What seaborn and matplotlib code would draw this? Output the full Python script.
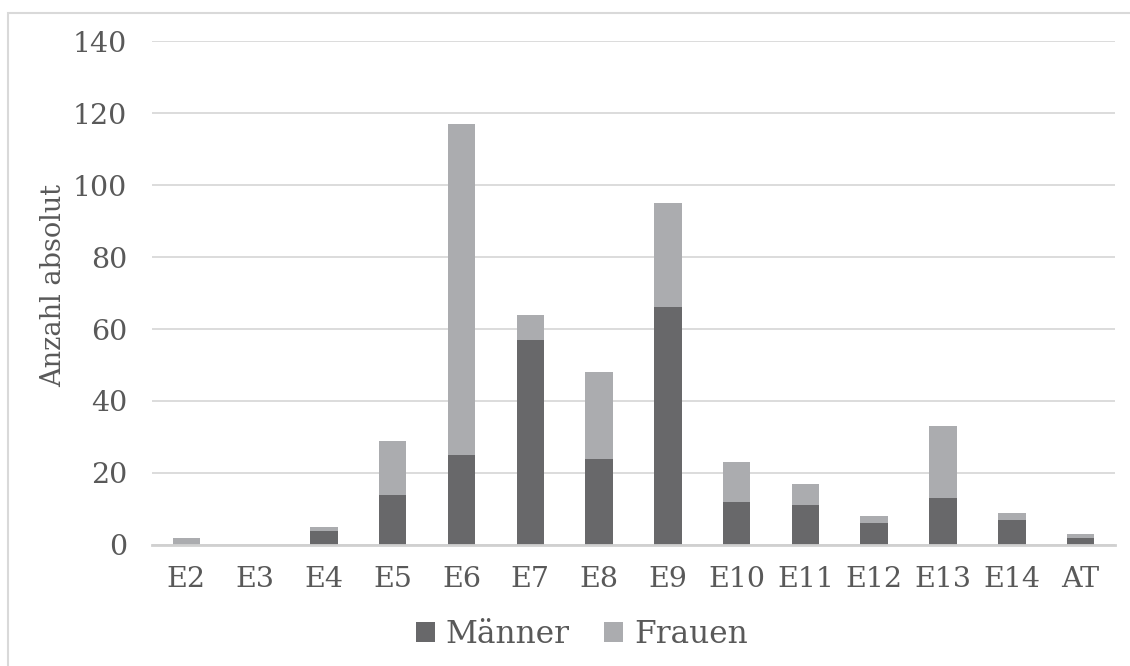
import matplotlib
matplotlib.use("Agg")
import matplotlib.pyplot as plt
from matplotlib.patches import Patch, Rectangle
import numpy as np
import pandas as pd
import seaborn as sns

# Entgeltgruppen und Anzahl der Beschäftigten
gruppen = ["E2", "E3", "E4", "E5", "E6", "E7", "E8", "E9", "E10", "E11", "E12", "E13", "E14", "AT"]
maenner = [0, 0, 4, 14, 25, 57, 24, 66, 12, 11, 6, 13, 7, 2]
frauen = [2, 0, 1, 15, 92, 7, 24, 29, 11, 6, 2, 20, 2, 1]
y_ticks = [0, 20, 40, 60, 80, 100, 120, 140]

DARK = "#68686a"
LIGHT = "#abacaf"
GRID = "#d9d9d9"
TEXT = "#595959"

df = pd.DataFrame({"Gruppe": gruppen, "Männer": maenner, "Frauen": frauen})
df["Gesamt"] = df["Männer"] + df["Frauen"]

sns.set_theme(style="white")
plt.rcParams["font.family"] = ["DejaVu Serif"]

fig = plt.figure(figsize=(11.3, 6.66), dpi=100)
ax = fig.add_axes([0.1345, 0.1817, 0.8522, 0.7567])

# Frauen-Anteil oben auf den Männer-Balken: Gesamthöhe hell, Männer dunkel darüber
sns.barplot(data=df, x="Gruppe", y="Gesamt", color=LIGHT, width=0.4,
            saturation=1, linewidth=0, ax=ax, zorder=2)
sns.barplot(data=df, x="Gruppe", y="Männer", color=DARK, width=0.4,
            saturation=1, linewidth=0, ax=ax, zorder=3)

ax.set_ylim(0, 140)
ax.set_xlim(-0.5, len(gruppen) - 0.5)
ax.set_yticks(y_ticks)
ax.set_yticklabels([str(v) for v in y_ticks])
ax.yaxis.grid(True, color=GRID, linewidth=1.3, zorder=0)
ax.set_axisbelow(True)
for s in ["top", "right", "left"]:
    ax.spines[s].set_visible(False)
ax.spines["bottom"].set_color("#d0d0d0")
ax.spines["bottom"].set_linewidth(2)
ax.spines["bottom"].set_zorder(4)

ax.tick_params(axis="both", length=0, labelsize=20.5, labelcolor=TEXT)
ax.tick_params(axis="y", pad=18)
ax.tick_params(axis="x", pad=15)
ax.set_xlabel("")
ax.set_ylabel("Anzahl absolut", fontsize=19.5, color=TEXT)
ax.yaxis.set_label_coords(-0.088, 0.514)

handles = [Patch(facecolor=DARK, edgecolor="none", label="Männer"),
           Patch(facecolor=LIGHT, edgecolor="none", label="Frauen")]
fig.legend(handles=handles, loc="center", bbox_to_anchor=(0.515, 0.047),
           ncol=2, frameon=False, fontsize=22.5, labelcolor=TEXT,
           handlelength=0.6, handleheight=0.6, handletextpad=0.35,
           columnspacing=1.1)

# Rahmen des Diagrammbereichs
fig.patches.append(Rectangle((8 / 1130, -0.1), 1.2, 1.1 - 12.5 / 666,
                             transform=fig.transFigure, fill=False,
                             edgecolor=GRID, linewidth=1.5))

fig.savefig("out.png", dpi=100)
